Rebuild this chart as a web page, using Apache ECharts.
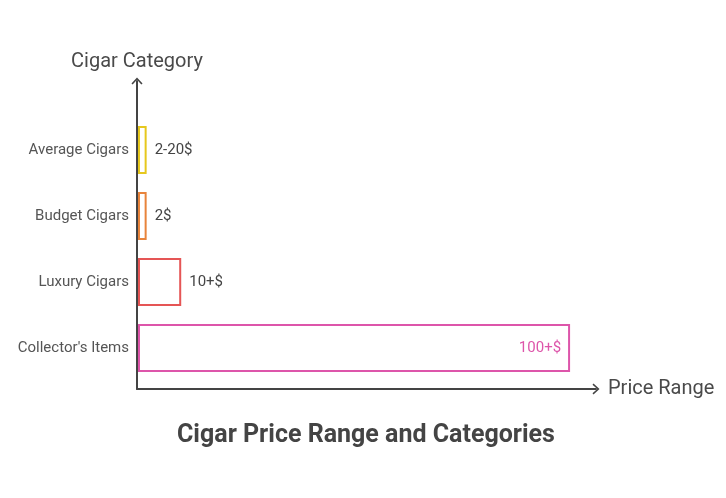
<!DOCTYPE html>
<html>
<head>
<meta charset="utf-8">
<script src="https://cdn.jsdelivr.net/npm/echarts@6/dist/echarts.min.js"></script>
<style>html,body{margin:0;padding:0;background:#fff}#c{width:726px;height:498px}</style>
</head>
<body>
<div id="c"></div>
<script>
var categories = ["Collector's Items", "Luxury Cigars", "Budget Cigars", "Average Cigars"];
var values = [100, 10, 2, 2];
var priceLabels = ["100+$", "10+$", "2$", "2-20$"];
var colors = ["#dd55aa", "#e55555", "#e8843c", "#e6c81e"];

var chevron = 'path://M0,7 L6.5,0 L13,7 L11.6,8.2 L6.5,2.6 L1.4,8.2 Z';
var font = 'Roboto';
var chart = echarts.init(document.getElementById('c'), null, {renderer: 'canvas'});

var barData = values.map(function (v, i) {
  var inside = i === 0;
  return {
    value: v,
    itemStyle: {color: '#fff', borderColor: colors[i], borderWidth: 2},
    label: {
      show: true,
      formatter: priceLabels[i],
      position: inside ? 'insideRight' : 'right',
      distance: inside ? 9 : 8,
      color: inside ? colors[i] : '#444',
      fontSize: 15,
      fontFamily: font
    }
  };
});

chart.setOption({
  animation: false,
  backgroundColor: '#fff',
  title: {
    text: 'Cigar Price Range and Categories',
    left: 172,
    top: 418,
    textStyle: {fontSize: 25, fontWeight: 'bold', color: '#444', fontFamily: font}
  },
  grid: [
    {left: 137, right: 130, top: 81, bottom: 109},
    {left: 138, right: 130, top: 117, bottom: 117}
  ],
  xAxis: [
    {
      gridIndex: 0, type: 'value', min: 0, max: 1, z: 10,
      axisLine: {show: true, symbol: ['none', chevron], symbolSize: [13, 7], lineStyle: {color: '#444', width: 2}},
      axisTick: {show: false}, axisLabel: {show: false}, splitLine: {show: false},
      name: 'Price Range', nameLocation: 'end', nameGap: 12,
      nameTextStyle: {fontSize: 20, color: '#4a4a4a', fontFamily: font}
    },
    {
      gridIndex: 1, type: 'value', min: 0, max: 106,
      axisLine: {show: false}, axisTick: {show: false}, axisLabel: {show: false}, splitLine: {show: false}
    }
  ],
  yAxis: [
    {
      gridIndex: 0, type: 'value', min: 0, max: 1, z: 10,
      axisLine: {show: true, symbol: ['none', chevron], symbolSize: [13, 7], lineStyle: {color: '#444', width: 2}},
      axisTick: {show: false}, axisLabel: {show: false}, splitLine: {show: false},
      name: 'Cigar Category', nameLocation: 'end', nameGap: 9,
      nameTextStyle: {fontSize: 20, color: '#4a4a4a', fontFamily: font, align: 'center'}
    },
    {
      gridIndex: 1, type: 'category', data: categories,
      axisLine: {show: false}, axisTick: {show: false},
      axisLabel: {margin: 9, fontSize: 15, color: '#555', fontFamily: font},
      splitLine: {show: false}
    }
  ],
  series: [{
    type: 'bar',
    xAxisIndex: 1,
    yAxisIndex: 1,
    barWidth: 48,
    data: barData
  }]
});
</script>
</body>
</html>
